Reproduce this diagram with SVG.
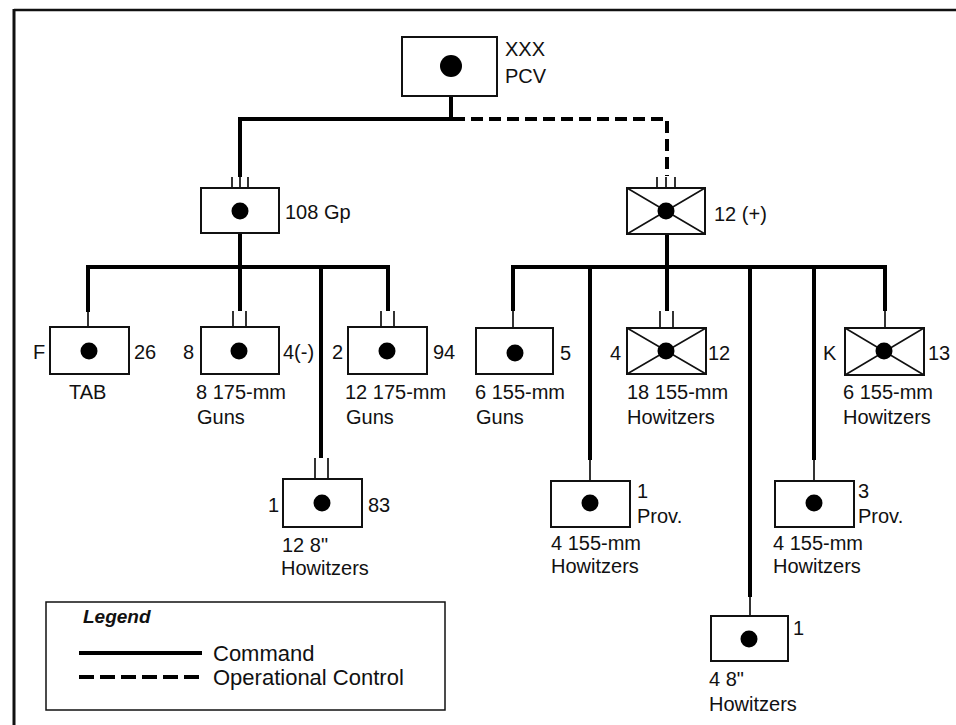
<svg xmlns="http://www.w3.org/2000/svg" width="956" height="725" viewBox="0 0 956 725">
<style>
.box{fill:#fff;stroke:#111;stroke-width:2}
.x{stroke:#111;stroke-width:1.6}
.dot{fill:#000}
.c{stroke:#000;stroke-width:4;fill:none}
.t{stroke:#000;stroke-width:1.6;fill:none}
.d{stroke:#000;stroke-width:4;fill:none;stroke-dasharray:12 6}
text{font-family:"Liberation Sans",Arial,Helvetica,sans-serif;font-size:20px;fill:#111}
.lg{font-size:22px}
</style>
<rect width="956" height="725" fill="#fff"/>
<g id="frame">
<line x1="14" y1="10" x2="956" y2="10" stroke="#111" stroke-width="2.5"/>
<line x1="14" y1="9" x2="14" y2="725" stroke="#111" stroke-width="3"/>
</g>
<g id="connectors">
<line class="c" x1="451" y1="96" x2="451" y2="119"/>
<line class="c" x1="238" y1="119" x2="453" y2="119"/>
<path class="d" d="M453 119H667V176"/>
<line class="c" x1="240" y1="117" x2="240" y2="177"/>
<path class="t" d="M232 177V188M240 177V188M248 177V188"/>
<path class="t" d="M657 177V188M666 177V188M675 177V188"/>
<line class="c" x1="240" y1="233" x2="240" y2="267"/>
<line class="c" x1="86" y1="267" x2="390" y2="267"/>
<line class="c" x1="88" y1="267" x2="88" y2="312"/>
<path class="t" d="M88 312V327"/>
<line class="c" x1="240" y1="267" x2="240" y2="311"/>
<path class="t" d="M233 311V327M246 311V327"/>
<line class="c" x1="321" y1="267" x2="321" y2="458"/>
<path class="t" d="M315 458V479M328 458V479"/>
<line class="c" x1="388" y1="267" x2="388" y2="311"/>
<path class="t" d="M381 311V327M394 311V327"/>
<line class="c" x1="667" y1="234" x2="667" y2="267"/>
<line class="c" x1="511" y1="267" x2="887" y2="267"/>
<line class="c" x1="513" y1="267" x2="513" y2="311"/>
<path class="t" d="M513 311V328"/>
<line class="c" x1="590" y1="267" x2="590" y2="460"/>
<path class="t" d="M590 460V481"/>
<line class="c" x1="667" y1="267" x2="667" y2="311"/>
<path class="t" d="M660 311V328M673 311V328"/>
<line class="c" x1="750" y1="267" x2="750" y2="597"/>
<path class="t" d="M750 597V616"/>
<line class="c" x1="814" y1="267" x2="814" y2="460"/>
<path class="t" d="M814 460V481"/>
<line class="c" x1="885" y1="267" x2="885" y2="311"/>
<path class="t" d="M885 311V328"/>
</g>
<g id="pcv">
<rect class="box" x="402" y="37" width="95" height="59"/>
<circle class="dot" cx="451" cy="66" r="11"/>
<text x="505" y="56">XXX</text>
<text x="505" y="83">PCV</text>
</g>
<g id="gp108">
<rect class="box" x="201" y="188" width="78" height="45"/>
<circle class="dot" cx="240" cy="211" r="8.5"/>
<text x="285" y="219">108 Gp</text>
</g>
<g id="bn12plus">
<rect class="box" x="627" y="188" width="78" height="46"/>
<path class="x" d="M627 188L705 234M705 188L627 234"/>
<circle class="dot" cx="666" cy="211" r="8.5"/>
<text x="714" y="221">12 (+)</text>
</g>
<g id="tab">
<rect class="box" x="50" y="327" width="79" height="47"/>
<circle class="dot" cx="89" cy="351" r="8.5"/>
<text x="33" y="359">F</text>
<text x="134" y="359">26</text>
<text x="69" y="399">TAB</text>
</g>
<g id="bn8">
<rect class="box" x="201" y="327" width="78" height="47"/>
<circle class="dot" cx="239" cy="351" r="8.5"/>
<text x="183" y="359">8</text>
<text x="283" y="359">4(-)</text>
<text x="196" y="399">8 175-mm</text>
<text x="197" y="424">Guns</text>
</g>
<g id="bn2">
<rect class="box" x="348" y="327" width="79" height="47"/>
<circle class="dot" cx="387" cy="351" r="8.5"/>
<text x="332" y="359">2</text>
<text x="433" y="359">94</text>
<text x="345" y="399">12 175-mm</text>
<text x="346" y="424">Guns</text>
</g>
<g id="bn1-83">
<rect class="box" x="283" y="479" width="79" height="48"/>
<circle class="dot" cx="322" cy="503" r="8.5"/>
<text x="268" y="512">1</text>
<text x="368" y="512">83</text>
<text x="282" y="552">12 8"</text>
<text x="281" y="575">Howitzers</text>
</g>
<g id="bn5">
<rect class="box" x="476" y="328" width="77" height="46"/>
<circle class="dot" cx="515" cy="353" r="8.5"/>
<text x="560" y="360">5</text>
<text x="475" y="399">6 155-mm</text>
<text x="476" y="424">Guns</text>
</g>
<g id="bn4-12">
<rect class="box" x="627" y="328" width="79" height="46"/>
<path class="x" d="M627 328L706 374M706 328L627 374"/>
<circle class="dot" cx="666" cy="351" r="8.5"/>
<text x="610" y="360">4</text>
<text x="708" y="360">12</text>
<text x="627" y="399">18 155-mm</text>
<text x="627" y="424">Howitzers</text>
</g>
<g id="bnK-13">
<rect class="box" x="845" y="328" width="79" height="47"/>
<path class="x" d="M845 328L924 375M924 328L845 375"/>
<circle class="dot" cx="884" cy="351" r="8.5"/>
<text x="823" y="360">K</text>
<text x="928" y="360">13</text>
<text x="843" y="399">6 155-mm</text>
<text x="843" y="424">Howitzers</text>
</g>
<g id="prov1">
<rect class="box" x="551" y="481" width="79" height="46"/>
<circle class="dot" cx="590" cy="503" r="8.5"/>
<text x="637" y="498">1</text>
<text x="637" y="523">Prov.</text>
<text x="551" y="550">4 155-mm</text>
<text x="551" y="573">Howitzers</text>
</g>
<g id="prov3">
<rect class="box" x="775" y="481" width="79" height="46"/>
<circle class="dot" cx="814" cy="503" r="8.5"/>
<text x="858" y="498">3</text>
<text x="858" y="523">Prov.</text>
<text x="773" y="550">4 155-mm</text>
<text x="773" y="573">Howitzers</text>
</g>
<g id="bn1-8in">
<rect class="box" x="711" y="616" width="77" height="45"/>
<circle class="dot" cx="749" cy="639" r="8.5"/>
<text x="793" y="635">1</text>
<text x="709" y="686">4 8"</text>
<text x="709" y="711">Howitzers</text>
</g>
<g id="legend">
<rect x="46" y="602" width="399" height="108" fill="#fff" stroke="#111" stroke-width="1.5"/>
<text x="83" y="623" style="font-weight:bold;font-style:italic;font-size:19px">Legend</text>
<line class="c" x1="79" y1="653" x2="202" y2="653"/>
<line class="d" x1="79" y1="677" x2="202" y2="677" style="stroke-dasharray:15 6"/>
<text class="lg" x="213" y="661">Command</text>
<text class="lg" x="213" y="685">Operational Control</text>
</g>
</svg>
